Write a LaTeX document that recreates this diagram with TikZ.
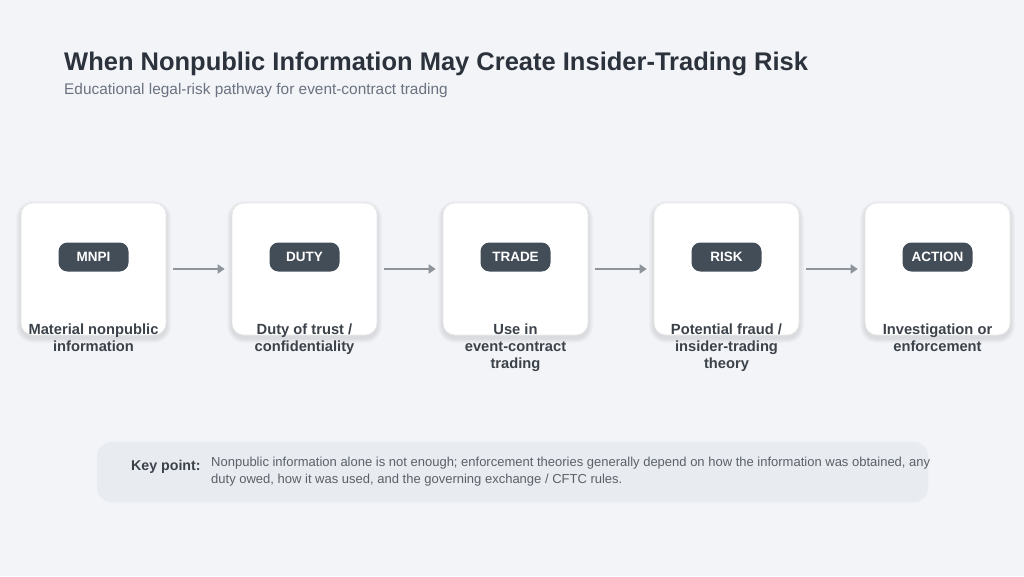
\documentclass[tikz,border=0pt]{standalone}
\usepackage{fontspec}
\setmainfont{Liberation Sans}
\usetikzlibrary{arrows.meta}
\definecolor{bgc}{HTML}{F2F4F7}
\definecolor{titlec}{HTML}{2B323C}
\definecolor{subc}{HTML}{6B7280}
\definecolor{pillc}{HTML}{434D58}
\definecolor{labc}{HTML}{3C424A}
\definecolor{arrc}{HTML}{8E949B}
\definecolor{keyc}{HTML}{E8EBEF}
\definecolor{keytxt}{HTML}{5B616A}
\tikzset{
  card/.style={draw=black!9, line width=0.6pt, fill=white, rounded corners=12pt, minimum width=145pt, minimum height=132pt, inner sep=0pt},
  shadowbox/.style={fill=black, fill opacity=0.018, draw=none},
  pill/.style={fill=pillc, rounded corners=9pt, minimum width=70pt, minimum height=29pt, inner sep=0pt, text=white, font=\fontsize{13.5}{15}\selectfont\bfseries},
  lab/.style={text=labc, align=center, font=\fontsize{14.7}{17}\selectfont\bfseries, anchor=north},
  flow/.style={draw=arrc, line width=2.2pt, -{Triangle[length=7pt,width=9pt]}},
}
\begin{document}
\begin{tikzpicture}[x=1pt,y=-1pt]
\useasboundingbox (0,0) rectangle (1024,576);
\fill[bgc] (0,0) rectangle (1024,576);
\node[anchor=base west, text=titlec, font=\fontsize{25.5}{30}\selectfont\bfseries, inner sep=0pt] (title) at (64,70) {When Nonpublic Information May Create Insider-Trading Risk};
\node[anchor=base west, text=subc, font=\fontsize{15.4}{17}\selectfont, inner sep=0pt] (sub) at (64,94) {Educational legal-risk pathway for event-contract trading};
\foreach \i/\x/\p/\t in {1/93.5/MNPI/{Material nonpublic\\information},2/304.5/DUTY/{Duty of trust /\\confidentiality},3/515.5/TRADE/{Use in\\event-contract\\trading},4/726.5/RISK/{Potential fraud /\\insider-trading\\theory},5/937.5/ACTION/{Investigation or\\enforcement}}{
  \foreach \k in {1,2,3,4,5}{
    \fill[shadowbox, rounded corners={12pt+\k pt}] (\x-72.5-\k,203-\k+3) rectangle (\x+72.5+\k,335+\k+3);
  }
  \node[card] (c\i) at (\x,269) {};
  \node[pill] (p\i) at (\x,257) {\p};
  \node[lab] (l\i) at (\x,320) {\t};
}
\foreach \a/\b in {1/2,2/3,3/4,4/5}{
  \draw[flow] ([xshift=7pt]c\a.east) -- ([xshift=-7pt]c\b.west);
}
\node[fill=keyc, rounded corners=14pt, minimum width=831pt, minimum height=60pt, inner sep=0pt] (key) at (512.5,472) {};
\node[anchor=base west, text=labc, font=\fontsize{14.2}{15}\selectfont\bfseries, inner sep=0pt] (kp) at (131,470) {Key point:};
\node[anchor=north west, text=keytxt, align=left, font=\fontsize{13}{17}\selectfont, inner sep=0pt] (kt) at (211,457) {Nonpublic information alone is not enough; enforcement theories generally depend on how the information was obtained, any\\duty owed, how it was used, and the governing exchange / CFTC rules.};
\end{tikzpicture}
\end{document}
